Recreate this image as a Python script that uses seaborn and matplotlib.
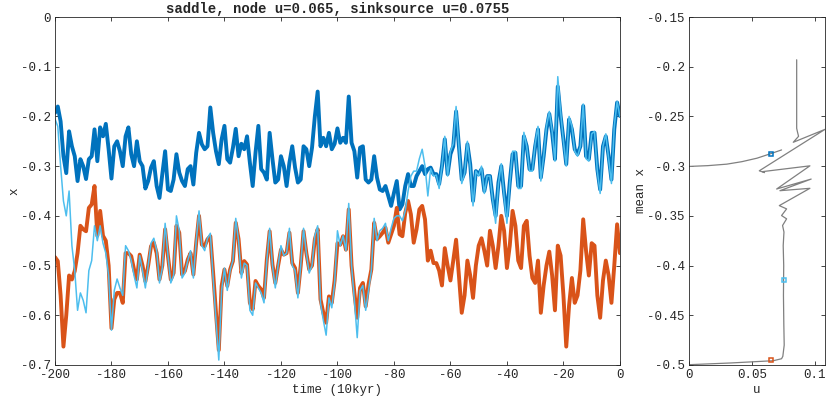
import matplotlib

matplotlib.use("Agg")

import matplotlib.pyplot as plt
import numpy as np
import seaborn as sns

# time axis (10 kyr), one value per unit from -200 to 0
time = np.arange(-200, 1)

# x(t) for the three runs
node_x = [
    -0.193, -0.180, -0.210, -0.280, -0.314, -0.230, -0.260, -0.280, -0.330, -0.286,
    -0.300, -0.326, -0.286, -0.280, -0.226, -0.290, -0.222, -0.240, -0.215, -0.266,
    -0.325, -0.260, -0.250, -0.270, -0.300, -0.240, -0.222, -0.276, -0.300, -0.250,
    -0.290, -0.300, -0.345, -0.330, -0.303, -0.290, -0.340, -0.364, -0.316, -0.270,
    -0.347, -0.350, -0.327, -0.276, -0.313, -0.330, -0.340, -0.306, -0.300, -0.337,
    -0.273, -0.233, -0.256, -0.266, -0.260, -0.182, -0.233, -0.270, -0.296, -0.246,
    -0.219, -0.286, -0.293, -0.263, -0.225, -0.280, -0.255, -0.266, -0.240, -0.293,
    -0.340, -0.273, -0.219, -0.306, -0.313, -0.327, -0.233, -0.286, -0.333, -0.327,
    -0.280, -0.300, -0.340, -0.293, -0.260, -0.303, -0.333, -0.327, -0.260, -0.266,
    -0.300, -0.263, -0.200, -0.150, -0.260, -0.243, -0.260, -0.233, -0.266, -0.255,
    -0.224, -0.253, -0.243, -0.253, -0.160, -0.253, -0.270, -0.323, -0.263, -0.260,
    -0.327, -0.333, -0.327, -0.280, -0.323, -0.347, -0.350, -0.340, -0.360, -0.380,
    -0.354, -0.330, -0.387, -0.377, -0.340, -0.316, -0.340, -0.340, -0.320, -0.310,
    -0.300, -0.316, -0.306, -0.303, -0.316, -0.316, -0.336, -0.300, -0.246, -0.316,
    -0.276, -0.260, -0.190, -0.260, -0.327, -0.313, -0.256, -0.296, -0.370, -0.310,
    -0.316, -0.306, -0.350, -0.320, -0.320, -0.367, -0.400, -0.333, -0.300, -0.354,
    -0.400, -0.333, -0.276, -0.273, -0.340, -0.340, -0.240, -0.260, -0.306, -0.306,
    -0.260, -0.226, -0.323, -0.280, -0.226, -0.195, -0.233, -0.286, -0.140, -0.199,
    -0.246, -0.296, -0.206, -0.226, -0.266, -0.276, -0.260, -0.179, -0.280, -0.286,
    -0.233, -0.233, -0.306, -0.347, -0.260, -0.240, -0.280, -0.327, -0.226, -0.172,
    -0.199,
]

saddle_x = [
    -0.483, -0.491, -0.560, -0.663, -0.600, -0.520, -0.528, -0.511, -0.475, -0.420,
    -0.427, -0.431, -0.384, -0.377, -0.340, -0.440, -0.390, -0.440, -0.450, -0.500,
    -0.626, -0.568, -0.555, -0.555, -0.575, -0.475, -0.475, -0.481, -0.508, -0.528,
    -0.478, -0.500, -0.532, -0.500, -0.461, -0.454, -0.475, -0.528, -0.500, -0.427,
    -0.481, -0.528, -0.515, -0.420, -0.434, -0.518, -0.511, -0.488, -0.475, -0.518,
    -0.454, -0.400, -0.458, -0.461, -0.447, -0.441, -0.515, -0.595, -0.670, -0.541,
    -0.508, -0.541, -0.508, -0.491, -0.414, -0.447, -0.515, -0.491, -0.498, -0.575,
    -0.588, -0.531, -0.541, -0.548, -0.565, -0.488, -0.431, -0.498, -0.535, -0.500,
    -0.468, -0.478, -0.475, -0.434, -0.495, -0.505, -0.555, -0.500, -0.431, -0.475,
    -0.508, -0.500, -0.447, -0.427, -0.568, -0.595, -0.615, -0.562, -0.575, -0.530,
    -0.455, -0.458, -0.441, -0.468, -0.387, -0.500, -0.555, -0.605, -0.545, -0.535,
    -0.582, -0.538, -0.508, -0.414, -0.447, -0.441, -0.434, -0.424, -0.454, -0.437,
    -0.420, -0.384, -0.437, -0.441, -0.394, -0.370, -0.397, -0.454, -0.427, -0.387,
    -0.380, -0.407, -0.490, -0.470, -0.495, -0.495, -0.510, -0.540, -0.465, -0.500,
    -0.530, -0.490, -0.448, -0.520, -0.595, -0.560, -0.490, -0.520, -0.565, -0.500,
    -0.460, -0.445, -0.470, -0.500, -0.430, -0.460, -0.505, -0.460, -0.400, -0.430,
    -0.505, -0.460, -0.390, -0.420, -0.490, -0.505, -0.420, -0.410, -0.480, -0.525,
    -0.535, -0.490, -0.595, -0.540, -0.500, -0.472, -0.520, -0.590, -0.460, -0.480,
    -0.560, -0.663, -0.580, -0.525, -0.575, -0.560, -0.510, -0.407, -0.470, -0.520,
    -0.455, -0.460, -0.560, -0.605, -0.530, -0.490, -0.520, -0.575, -0.500, -0.417,
    -0.475,
]

sinksource_x = [
    -0.205, -0.220, -0.300, -0.370, -0.400, -0.350, -0.460, -0.510, -0.590, -0.555,
    -0.570, -0.595, -0.510, -0.490, -0.420, -0.450, -0.420, -0.455, -0.475, -0.520,
    -0.630, -0.550, -0.527, -0.545, -0.560, -0.460, -0.470, -0.490, -0.520, -0.545,
    -0.480, -0.510, -0.545, -0.500, -0.455, -0.445, -0.470, -0.535, -0.505, -0.415,
    -0.480, -0.535, -0.520, -0.400, -0.430, -0.525, -0.515, -0.490, -0.470, -0.525,
    -0.450, -0.390, -0.460, -0.470, -0.445, -0.435, -0.525, -0.610, -0.690, -0.550,
    -0.505, -0.550, -0.510, -0.490, -0.405, -0.450, -0.525, -0.495, -0.500, -0.590,
    -0.600, -0.535, -0.545, -0.555, -0.575, -0.490, -0.425, -0.500, -0.545, -0.500,
    -0.460, -0.480, -0.475, -0.425, -0.500, -0.510, -0.565, -0.500, -0.425, -0.475,
    -0.515, -0.500, -0.440, -0.420, -0.575, -0.610, -0.640, -0.565, -0.585, -0.535,
    -0.430, -0.460, -0.440, -0.470, -0.375, -0.500, -0.570, -0.645, -0.550, -0.540,
    -0.590, -0.550, -0.510, -0.405, -0.450, -0.430, -0.425, -0.415, -0.450, -0.425,
    -0.405, -0.400, -0.400, -0.410, -0.390, -0.350, -0.320, -0.310, -0.310, -0.285,
    -0.266, -0.300, -0.360, -0.305, -0.320, -0.318, -0.345, -0.300, -0.240, -0.320,
    -0.270, -0.255, -0.180, -0.260, -0.335, -0.315, -0.250, -0.300, -0.380, -0.310,
    -0.320, -0.300, -0.355, -0.320, -0.320, -0.370, -0.415, -0.335, -0.295, -0.360,
    -0.415, -0.335, -0.270, -0.270, -0.345, -0.345, -0.232, -0.260, -0.310, -0.310,
    -0.255, -0.220, -0.330, -0.280, -0.220, -0.190, -0.230, -0.290, -0.120, -0.190,
    -0.250, -0.300, -0.200, -0.220, -0.270, -0.280, -0.260, -0.175, -0.285, -0.290,
    -0.235, -0.230, -0.310, -0.355, -0.260, -0.235, -0.285, -0.335, -0.220, -0.170,
    -0.200,
]

# mean x against forcing u (right panel)
path_u = [0.0855, 0.0855, 0.0855, 0.0862, 0.0870, 0.0828, 0.1080, 0.0558, 0.0600,
          0.0585, 0.0960, 0.0696, 0.0970, 0.0722, 0.0960, 0.0717, 0.0775, 0.0735,
          0.0775, 0.0743, 0.0754, 0.0748, 0.0752, 0.0750, 0.0753, 0.0756, 0.0745,
          0.0735, 0.0670, 0.0325, 0.0]
path_x = [-0.193, -0.230, -0.262, -0.266, -0.270, -0.276, -0.263, -0.3047, -0.3065,
          -0.3055, -0.2997, -0.323, -0.313, -0.3247, -0.3223, -0.3397, -0.343, -0.3497,
          -0.353, -0.3597, -0.3663, -0.380, -0.400, -0.430, -0.460, -0.480, -0.4913,
          -0.4937, -0.4957, -0.498, -0.4997]
branch_u = [0.0, 0.015, 0.030, 0.042, 0.054, 0.0643, 0.0735]
branch_x = [-0.3003, -0.2995, -0.298, -0.2955, -0.292, -0.2877, -0.2837]

marker_u = [0.065, 0.0755, 0.065]
marker_x = [-0.2877, -0.4147, -0.4953]

BLUE = "#0072BD"
ORANGE = "#D95319"
LIGHT = "#4DBEEE"
GREY = "#808080"
INK = "#262626"

sns.set_theme(style="ticks")
plt.rcParams["font.family"] = ["Liberation Mono", "DejaVu Sans Mono"]
plt.rcParams["axes.unicode_minus"] = False
plt.rcParams["axes.edgecolor"] = INK
plt.rcParams["xtick.color"] = INK
plt.rcParams["ytick.color"] = INK
plt.rcParams["text.color"] = INK
plt.rcParams["axes.labelcolor"] = INK

fig = plt.figure(figsize=(8.29, 4.01), dpi=100)
ax = fig.add_axes([0.0663, 0.0898, 0.6815, 0.8678])
ax2 = fig.add_axes([0.8311, 0.0898, 0.1641, 0.8678])

sns.lineplot(x=time, y=node_x, color=BLUE, linewidth=2.8, ax=ax)
sns.lineplot(x=time, y=saddle_x, color=ORANGE, linewidth=2.8, ax=ax)
sns.lineplot(x=time, y=sinksource_x, color=LIGHT, linewidth=1.1, ax=ax)

ax.set_xlim(-200, 0)
ax.set_ylim(-0.7, 0)
ax.set_xticks([-200, -180, -160, -140, -120, -100, -80, -60, -40, -20, 0])
ax.set_xticklabels(["-200", "-180", "-160", "-140", "-120", "-100",
                    "-80", "-60", "-40", "-20", "0"])
ax.set_yticks([-0.7, -0.6, -0.5, -0.4, -0.3, -0.2, -0.1, 0])
ax.set_yticklabels(["-0.7", "-0.6", "-0.5", "-0.4", "-0.3", "-0.2", "-0.1", "0"])
ax.set_xlabel("time (10kyr)", fontsize=9, labelpad=2)
ax.set_ylabel("x", fontsize=9, labelpad=0)
ax.set_title("saddle, node u=0.065, sinksource u=0.0755",
             fontsize=10, fontweight="bold", pad=3)

sns.lineplot(x=path_u, y=path_x, sort=False, estimator=None, color=GREY,
             linewidth=0.9, ax=ax2)
sns.lineplot(x=branch_u, y=branch_x, sort=False, estimator=None, color=GREY,
             linewidth=0.9, ax=ax2)
for u, m, c in zip(marker_u, marker_x, [BLUE, LIGHT, ORANGE]):
    ax2.plot(u, m, marker="s", markersize=3.5, mfc="none", mec=c, mew=1.1)

ax2.set_xlim(0, 0.108)
ax2.set_ylim(-0.5, -0.15)
ax2.set_xticks([0, 0.05, 0.1])
ax2.set_xticklabels(["0", "0.05", "0.1"])
ax2.set_yticks([-0.5, -0.45, -0.4, -0.35, -0.3, -0.25, -0.2, -0.15])
ax2.set_yticklabels(["-0.5", "-0.45", "-0.4", "-0.35", "-0.3", "-0.25", "-0.2", "-0.15"])
ax2.set_xlabel("u", fontsize=9, labelpad=2)
ax2.set_ylabel("mean x", fontsize=9, labelpad=0)

for a in (ax, ax2):
    a.tick_params(direction="in", top=True, right=True, length=3, width=0.6,
                  labelsize=9, pad=3)
    for s in a.spines.values():
        s.set_visible(True)
        s.set_linewidth(0.6)

fig.savefig("out.png", dpi=100)
plt.close(fig)
